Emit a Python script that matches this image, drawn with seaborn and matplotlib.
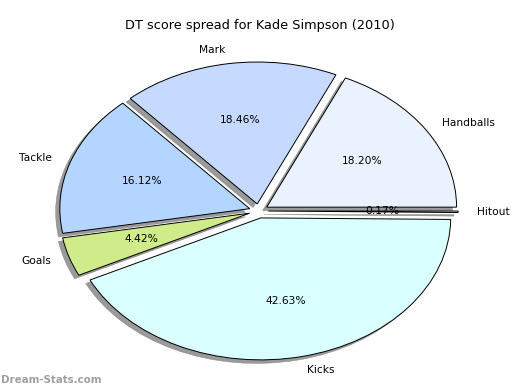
import matplotlib
matplotlib.use("Agg")
import matplotlib.pyplot as plt
import seaborn as sns

# Kade Simpson 2010 DT score breakdown (percent of total)
categories = ["Handballs", "Mark", "Tackle", "Goals", "Kicks", "Hitout"]
shares = [18.20, 18.46, 16.12, 4.42, 42.63, 0.17]
colors = ["#EBF2FF", "#C6D9FF", "#B3D5FF", "#CFEB8A", "#D9FFFF", "#E6E6E6"]

sns.set_theme(style="white")
plt.rcParams["font.family"] = ["DejaVu Sans"]

fig = plt.figure(figsize=(5.2, 3.9), dpi=100)
ax = fig.add_axes([0.041, 0.004, 0.913, 0.910])

wedges, texts, autotexts = ax.pie(
    shares,
    labels=categories,
    colors=colors,
    explode=[0.05] * len(shares),
    autopct="%1.2f%%",
    startangle=0,
    counterclock=True,
    labeldistance=1.1,
    pctdistance=0.6,
    shadow=dict(ox=-0.016, oy=-0.018, facecolor="#9a9a9a", edgecolor="#808080",
                alpha=1.0, linewidth=0.3),
    wedgeprops=dict(edgecolor="black", linewidth=0.7),
    textprops=dict(fontsize=7.7, color="black"),
)
ax.set_aspect("auto")
ax.set_xlim(-1.25, 1.25)
ax.set_ylim(-1.25, 1.25)
ax.axis("off")

fig.text(0.5, 1 - 25 / 390, "DT score spread for Kade Simpson (2010)",
         ha="center", va="center", fontsize=9.3, color="black")
fig.text(0.002, 1 - 380 / 390, "Dream-Stats.com", ha="left", va="center",
         fontsize=7.4, color="#a0a0a0", fontweight="bold")

plt.savefig("out.png", dpi=100)
plt.close()
